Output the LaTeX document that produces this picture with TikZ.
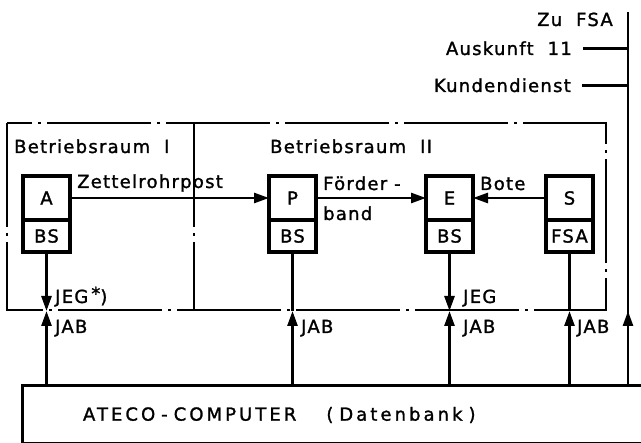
\documentclass[tikz,border=0pt]{standalone}
\usepackage{fontspec}
\setmainfont{DejaVu Sans}[LetterSpace=7, FakeBold=1.4]
\usetikzlibrary{arrows.meta}
\tikzstyle{room}=[line width=1.6pt, dash pattern=on 104pt off 6pt on 3pt off 6pt]
\tikzstyle{stelle}=[draw, line width=3.4pt, outer sep=0pt, minimum width=47pt, minimum height=44pt, inner sep=0pt]
\tikzstyle{unter}=[stelle, minimum height=32pt]
\tikzstyle{l}=[draw=none, inner sep=0pt]
\tikzstyle{leit}=[line width=2.6pt]
\tikzstyle{flow}=[leit, -{Triangle[length=15pt, width=10pt]}]
\tikzstyle{rechner}=[draw, line width=3pt, outer sep=0pt, minimum height=58pt,
  text width=577pt, inner xsep=61pt, align=left]

\begin{document}
\begin{tikzpicture}[x=1pt, y=-1pt, every node/.style={font=\fontsize{18}{21}\selectfont}]
\useasboundingbox (0,0) rectangle (641,443);
% Betriebsraeume
\draw[room] (7,123) rectangle (606,310);
\draw[room] (194,123) -- (194,310);
\node[l, anchor=base west] (r1) at (14,153) {Betriebsraum \ I};
\node[l, anchor=base west] (r2) at (270,153) {Betriebsraum \ II};
% Stellen
\foreach \n/\x/\t/\b in {A/46.5/A/BS, P/292.5/P/BS, E/449.5/E/BS, S/569.5/S/FSA}{
  \node[stelle] (\n) at (\x,198) {\t};
  \node[unter, anchor=north] (bs\n) at (\n.south) {\b};
}
\node[rechner, anchor=north west] (comp) at (22,386)
  {\addfontfeature{LetterSpace=17}ATECO - COMPUTER\hspace{30pt}( Datenbank )};
% Transport
\draw[flow] (A) -- (P);
\draw[flow] (P) -- (E);
\draw[flow] (S) -- (E);
\node[l, anchor=base west] (zrp) at (77,188) {Zettelrohrpost};
\node[l, anchor=base west] (fb1) at (323,190) {Förder -};
\node[l, anchor=base west] (fb2) at (323,220) {band};
\node[l, anchor=base west] (bote) at (480,190) {Bote};
% Verbindungen zum Rechner
\foreach \n in {A,P,E,S}
  \coordinate (j\n) at (bs\n |- 0,311);
\foreach \n in {A,E}
  \draw[flow] (bs\n) -- (j\n);
\foreach \n in {P,S}
  \draw[leit] (bs\n) -- (j\n);
\foreach \n in {A,P,E,S}
  \draw[flow] (bs\n |- comp.north) -- (j\n);
\node[l, anchor=base west] (jegA) at (55,303) {JEG\,\raisebox{3pt}{*})};
\node[l, anchor=base west] (jegE) at (463,303) {JEG};
\foreach \n/\x in {A/55, P/301, E/463, S/577}
  \node[l, anchor=base west] (jab\n) at (\x,333) {JAB};
% Leitung zu FSA
\coordinate (fsa) at (628,12);
\coordinate (jR) at (628,311);
\draw[leit] (comp.north -| fsa) -- (fsa);
\draw[flow] (comp.north -| fsa) -- (jR);
\node[l, anchor=base east] (zu) at (613,26) {Zu \ FSA};
\node[l, anchor=base east] (ausk) at (572,55) {Auskunft \ 11};
\node[l, anchor=base east] (kd) at (571,92) {Kundendienst};
\foreach \t in {ausk,kd}
  \draw[leit] ([xshift=11pt]\t.east) -- (\t.east -| fsa);
\end{tikzpicture}
\end{document}
